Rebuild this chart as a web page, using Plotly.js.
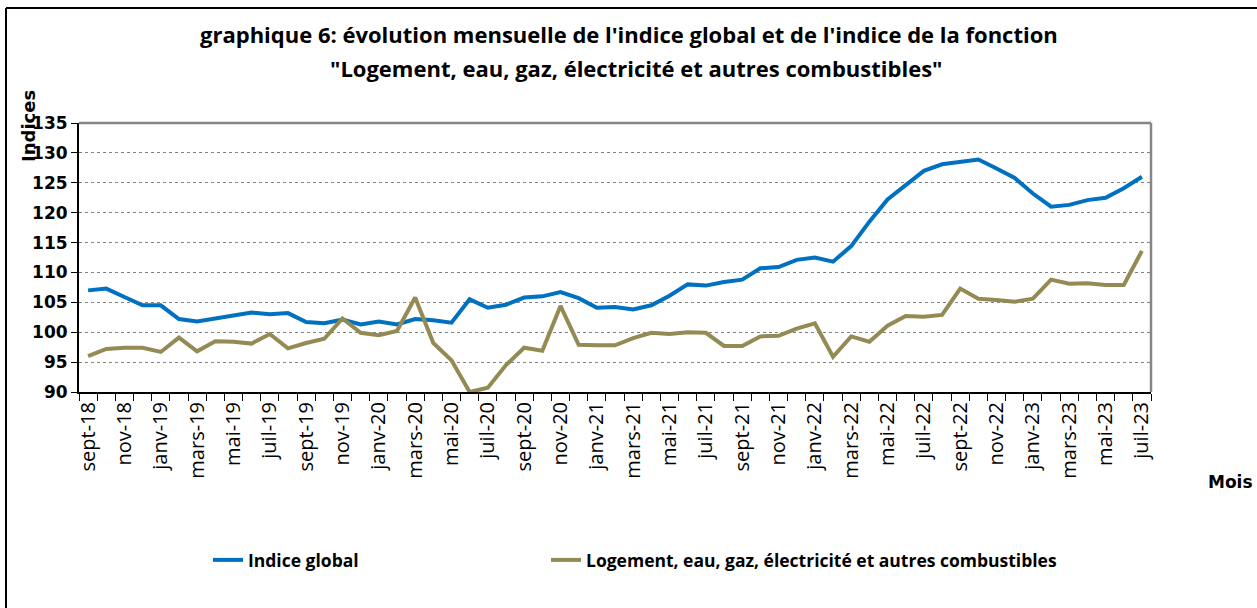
<!DOCTYPE html>
<html>
<head>
<meta charset="utf-8">
<script src="https://cdn.plot.ly/plotly-3.0.1.min.js"></script>
<style>
  html, body { margin: 0; padding: 0; background: #fff; }
  #chart { width: 1257px; height: 608px; }
</style>
</head>
<body>
<div id="chart"></div>
<script>
// ---- data ----
const months = [
  "sept-18","oct-18","nov-18","déc-18",
  "janv-19","févr-19","mars-19","avr-19","mai-19","juin-19","juil-19","août-19","sept-19","oct-19","nov-19","déc-19",
  "janv-20","févr-20","mars-20","avr-20","mai-20","juin-20","juil-20","août-20","sept-20","oct-20","nov-20","déc-20",
  "janv-21","févr-21","mars-21","avr-21","mai-21","juin-21","juil-21","août-21","sept-21","oct-21","nov-21","déc-21",
  "janv-22","févr-22","mars-22","avr-22","mai-22","juin-22","juil-22","août-22","sept-22","oct-22","nov-22","déc-22",
  "janv-23","févr-23","mars-23","avr-23","mai-23","juin-23","juil-23"
];
const indiceGlobal = [
  107.0,107.3,105.9,104.5,104.5,102.2,101.8,102.3,102.9,103.3,103.0,103.2,101.7,101.5,102.1,101.3,
  101.8,101.3,102.2,102.0,101.6,105.5,104.1,104.6,105.8,106.0,106.7,105.7,
  104.1,104.2,103.8,104.5,106.1,108.0,107.8,108.4,108.8,110.7,110.9,112.1,
  112.5,111.8,114.4,118.5,122.2,124.5,127.0,128.1,128.5,128.9,127.4,125.8,
  123.2,121.0,121.3,122.1,122.5,124.1,126.0
];
const logement = [
  96.0,97.2,97.4,97.4,96.7,99.1,96.8,98.5,98.4,98.1,99.7,97.3,98.2,98.9,102.3,99.9,
  99.5,100.2,105.8,98.2,95.3,90.0,90.7,94.5,97.4,96.9,104.4,97.9,
  97.8,97.8,99.0,99.9,99.7,100.0,99.9,97.7,97.7,99.3,99.4,100.6,
  101.5,95.9,99.3,98.4,101.1,102.7,102.6,102.9,107.3,105.6,105.4,105.1,
  105.6,108.8,108.1,108.2,107.9,107.9,113.6
];
const seriesNames = ["Indice global", "Logement, eau, gaz, électricité et autres combustibles"];
const titleLines = [
  "graphique 6: évolution mensuelle de l'indice global et de l'indice de la fonction",
  "\"Logement, eau, gaz, électricité et autres combustibles\""
];
const tickLabels = months.map((m, i) => (i % 2 === 0 ? m : ""));

// ---- geometry helpers (page pixels -> paper) ----
const W = 1257, H = 608;
const M = { l: 79, r: 106, t: 123, b: 216 };
const PW = W - M.l - M.r, PH = H - M.t - M.b;
const px = x => (x - M.l) / PW;
const py = y => (H - M.b - y) / PH;

const traces = [
  { x: months, y: indiceGlobal, name: seriesNames[0], type: "scatter", mode: "lines",
    line: { color: "#0070C0", width: 4 }, legend: "legend" },
  { x: months, y: logement, name: seriesNames[1], type: "scatter", mode: "lines",
    line: { color: "#948A54", width: 4 }, legend: "legend2" }
];

const legendFont = { family: "Open Sans, sans-serif", size: 17.5, color: "#000", weight: "bold" };

const layout = {
  width: W, height: H,
  margin: M,
  paper_bgcolor: "#fff", plot_bgcolor: "#fff",
  showlegend: true,
  legend: {
    orientation: "h", x: px(208), y: py(560), xref: "paper", yref: "paper",
    xanchor: "left", yanchor: "middle", font: legendFont, bgcolor: "rgba(0,0,0,0)"
  },
  legend2: {
    orientation: "h", x: px(546), y: py(560), xref: "paper", yref: "paper",
    xanchor: "left", yanchor: "middle", font: legendFont, bgcolor: "rgba(0,0,0,0)"
  },
  xaxis: {
    type: "category",
    range: [-0.5, months.length - 0.5],
    tickvals: months, ticktext: tickLabels,
    tickangle: -90,
    tickson: "boundaries",
    ticks: "outside", ticklen: 7, tickcolor: "#000", tickwidth: 1,
    showgrid: false, zeroline: false,
    showline: true, linecolor: "#000", linewidth: 2,
    tickfont: { family: "Open Sans, sans-serif", size: 20, color: "#000" },
    fixedrange: true
  },
  yaxis: {
    range: [90, 135], dtick: 5, tick0: 90,
    ticks: "outside", ticklen: 6, tickcolor: "#000", tickwidth: 1,
    showgrid: true, gridcolor: "#808080", griddash: "dot", gridwidth: 1,
    zeroline: false,
    showline: true, linecolor: "#000", linewidth: 2,
    tickfont: { family: "DejaVu Sans, sans-serif", size: 17, color: "#000", weight: "bold" },
    fixedrange: true
  },
  shapes: [
    // grey plot frame top & right
    { type: "line", xref: "paper", yref: "paper", x0: 0, x1: 1, y0: 1, y1: 1,
      line: { color: "#868686", width: 2.5 } },
    { type: "line", xref: "paper", yref: "paper", x0: 1, x1: 1, y0: 0, y1: 1,
      line: { color: "#868686", width: 2.5 } },
    // outer chart frame (left & top)
    { type: "line", xref: "paper", yref: "paper", x0: px(6), x1: px(1257), y0: py(8), y1: py(8),
      line: { color: "#000", width: 2 } },
    { type: "line", xref: "paper", yref: "paper", x0: px(6), x1: px(6), y0: py(8), y1: py(608),
      line: { color: "#000", width: 2 } }
  ],
  annotations: [
    { text: "<b>" + titleLines[0] + "</b>", xref: "paper", yref: "paper", x: px(629), y: py(34),
      showarrow: false, xanchor: "center", yanchor: "middle",
      font: { family: "Open Sans, sans-serif", size: 22, color: "#000" } },
    { text: "<b>" + titleLines[1] + "</b>", xref: "paper", yref: "paper", x: px(636), y: py(68),
      showarrow: false, xanchor: "center", yanchor: "middle",
      font: { family: "Open Sans, sans-serif", size: 22, color: "#000" } },
    { text: "<b>Indices</b>", xref: "paper", yref: "paper", x: px(28), y: py(126),
      showarrow: false, xanchor: "center", yanchor: "middle", textangle: -90,
      font: { family: "DejaVu Sans, sans-serif", size: 18, color: "#000" } },
    { text: "<b>Mois</b>", xref: "paper", yref: "paper", x: px(1230), y: py(482),
      showarrow: false, xanchor: "center", yanchor: "middle",
      font: { family: "DejaVu Sans, sans-serif", size: 17, color: "#000" } }
  ]
};

Plotly.newPlot("chart", traces, layout, { displayModeBar: false, staticPlot: true });
</script>
</body>
</html>
